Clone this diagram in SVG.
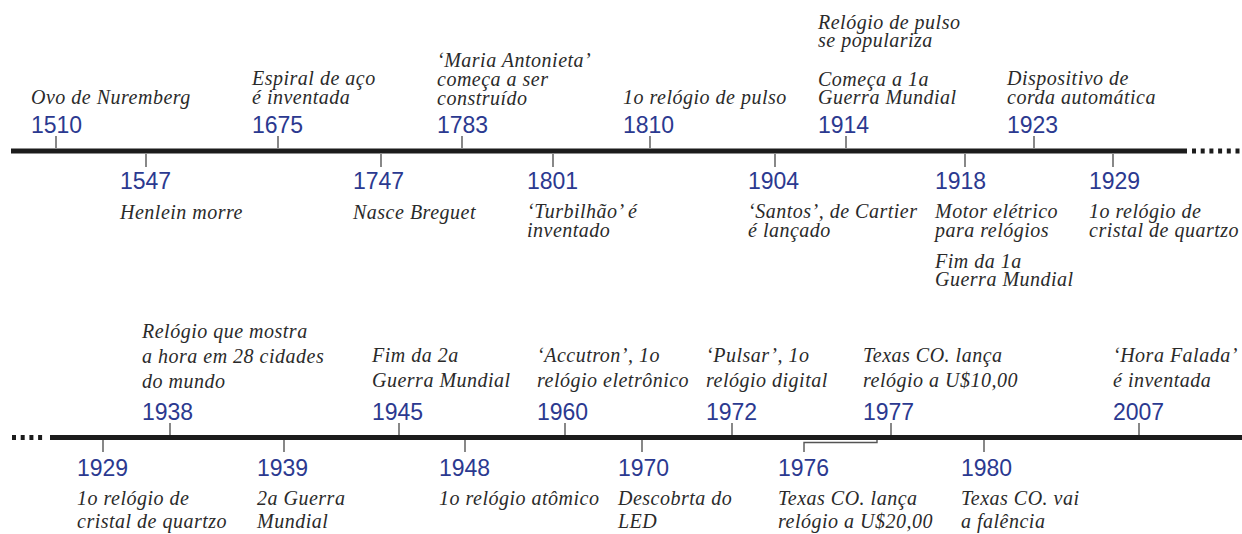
<svg xmlns="http://www.w3.org/2000/svg" width="1242" height="534" viewBox="0 0 1242 534">
<style>
.yr{font-family:"Liberation Sans",Arial,sans-serif;font-size:23px;fill:#2b3990}
.d{font-family:"Liberation Serif","Times New Roman",serif;font-style:italic;font-size:20px;fill:#2a2a2a;letter-spacing:0.5px}
.axis{stroke:#1c1c1c;stroke-width:5;fill:none}
.dots{stroke:#1c1c1c;stroke-width:5;fill:none;stroke-dasharray:4 4.7}
.tick{stroke:#555;stroke-width:1.4;fill:none}
</style>
<rect width="1242" height="534" fill="#ffffff"/>
<g id="axes">
<line class="axis" x1="11" y1="151" x2="1187" y2="151"/>
<line class="dots" x1="1192" y1="151" x2="1242" y2="151"/>
<line class="dots" x1="12" y1="437.5" x2="46" y2="437.5"/>
<line class="axis" x1="50" y1="437.5" x2="1242" y2="437.5"/>
</g>
<g id="connectors">
<line class="tick" x1="56" y1="136" x2="56" y2="148"/>
<line class="tick" x1="278" y1="136" x2="278" y2="148"/>
<line class="tick" x1="462" y1="136" x2="462" y2="148"/>
<line class="tick" x1="650" y1="136" x2="650" y2="148"/>
<line class="tick" x1="846" y1="136" x2="846" y2="148"/>
<line class="tick" x1="1034" y1="136" x2="1034" y2="148"/>
<line class="tick" x1="146" y1="154" x2="146" y2="167"/>
<line class="tick" x1="381" y1="154" x2="381" y2="167"/>
<line class="tick" x1="553" y1="154" x2="553" y2="167"/>
<line class="tick" x1="775" y1="154" x2="775" y2="167"/>
<line class="tick" x1="965" y1="154" x2="965" y2="167"/>
<line class="tick" x1="1113" y1="154" x2="1113" y2="167"/>
<line class="tick" x1="170" y1="423" x2="170" y2="435"/>
<line class="tick" x1="399" y1="423" x2="399" y2="435"/>
<line class="tick" x1="565" y1="423" x2="565" y2="435"/>
<line class="tick" x1="732" y1="423" x2="732" y2="435"/>
<line class="tick" x1="891" y1="423" x2="891" y2="435"/>
<line class="tick" x1="1139" y1="423" x2="1139" y2="435"/>
<line class="tick" x1="103" y1="440" x2="103" y2="452"/>
<line class="tick" x1="284" y1="440" x2="284" y2="452"/>
<line class="tick" x1="465" y1="440" x2="465" y2="452"/>
<line class="tick" x1="642" y1="440" x2="642" y2="452"/>
<line class="tick" x1="984" y1="440" x2="984" y2="452"/>
<path class="tick" d="M804,452 V442.5 H877 V440"/>
</g>
<g id="e1510"><text class="yr" x="31" y="133">1510</text><text class="d" x="31" y="104">Ovo de Nuremberg</text></g>
<g id="e1675"><text class="yr" x="252" y="133">1675</text><text class="d"><tspan x="252" y="85">Espiral de aço</tspan><tspan x="252" y="104">é inventada</tspan></text></g>
<g id="e1783"><text class="yr" x="437" y="133">1783</text><text class="d"><tspan x="437" y="67">‘Maria Antonieta’</tspan><tspan x="437" y="86">começa a ser</tspan><tspan x="437" y="105">construído</tspan></text></g>
<g id="e1810"><text class="yr" x="623" y="133">1810</text><text class="d" x="623" y="104">1o relógio de pulso</text></g>
<g id="e1914"><text class="yr" x="818" y="133">1914</text><text class="d"><tspan x="818" y="29">Relógio de pulso</tspan><tspan x="818" y="47">se populariza</tspan><tspan x="818" y="86">Começa a 1a</tspan><tspan x="818" y="104">Guerra Mundial</tspan></text></g>
<g id="e1923"><text class="yr" x="1007" y="133">1923</text><text class="d"><tspan x="1007" y="85">Dispositivo de</tspan><tspan x="1007" y="104">corda automática</tspan></text></g>
<g id="e1547"><text class="yr" x="120" y="189">1547</text><text class="d" x="120" y="219">Henlein morre</text></g>
<g id="e1747"><text class="yr" x="353" y="189">1747</text><text class="d" x="353" y="219">Nasce Breguet</text></g>
<g id="e1801"><text class="yr" x="527" y="189">1801</text><text class="d"><tspan x="527" y="218">‘Turbilhão’ é</tspan><tspan x="527" y="237">inventado</tspan></text></g>
<g id="e1904"><text class="yr" x="748" y="189">1904</text><text class="d"><tspan x="748" y="218">‘Santos’, de Cartier</tspan><tspan x="748" y="237">é lançado</tspan></text></g>
<g id="e1918"><text class="yr" x="935" y="189">1918</text><text class="d"><tspan x="935" y="218">Motor elétrico</tspan><tspan x="935" y="237">para relógios</tspan><tspan x="935" y="268">Fim da 1a</tspan><tspan x="935" y="286">Guerra Mundial</tspan></text></g>
<g id="e1929a"><text class="yr" x="1089" y="189">1929</text><text class="d"><tspan x="1089" y="218">1o relógio de</tspan><tspan x="1089" y="237">cristal de quartzo</tspan></text></g>
<g id="e1938"><text class="yr" x="142" y="420">1938</text><text class="d"><tspan x="142" y="338">Relógio que mostra</tspan><tspan x="142" y="363">a hora em 28 cidades</tspan><tspan x="142" y="388">do mundo</tspan></text></g>
<g id="e1945"><text class="yr" x="372" y="420">1945</text><text class="d"><tspan x="372" y="362">Fim da 2a</tspan><tspan x="372" y="387">Guerra Mundial</tspan></text></g>
<g id="e1960"><text class="yr" x="537" y="420">1960</text><text class="d"><tspan x="537" y="362">‘Accutron’, 1o</tspan><tspan x="537" y="387">relógio eletrônico</tspan></text></g>
<g id="e1972"><text class="yr" x="706" y="420">1972</text><text class="d"><tspan x="706" y="362">‘Pulsar’, 1o</tspan><tspan x="706" y="387">relógio digital</tspan></text></g>
<g id="e1977"><text class="yr" x="863" y="420">1977</text><text class="d"><tspan x="863" y="362">Texas CO. lança</tspan><tspan x="863" y="387">relógio a U$10,00</tspan></text></g>
<g id="e2007"><text class="yr" x="1113" y="420">2007</text><text class="d"><tspan x="1113" y="362">‘Hora Falada’</tspan><tspan x="1113" y="387">é inventada</tspan></text></g>
<g id="e1929b"><text class="yr" x="77" y="476">1929</text><text class="d"><tspan x="77" y="505">1o relógio de</tspan><tspan x="77" y="528">cristal de quartzo</tspan></text></g>
<g id="e1939"><text class="yr" x="257" y="476">1939</text><text class="d"><tspan x="257" y="505">2a Guerra</tspan><tspan x="257" y="528">Mundial</tspan></text></g>
<g id="e1948"><text class="yr" x="439" y="476">1948</text><text class="d" x="439" y="505">1o relógio atômico</text></g>
<g id="e1970"><text class="yr" x="618" y="476">1970</text><text class="d"><tspan x="618" y="505">Descobrta do</tspan><tspan x="618" y="528">LED</tspan></text></g>
<g id="e1976"><text class="yr" x="778" y="476">1976</text><text class="d"><tspan x="778" y="505">Texas CO. lança</tspan><tspan x="778" y="528">relógio a U$20,00</tspan></text></g>
<g id="e1980"><text class="yr" x="961" y="476">1980</text><text class="d"><tspan x="961" y="505">Texas CO. vai</tspan><tspan x="961" y="528">a falência</tspan></text></g>
</svg>
